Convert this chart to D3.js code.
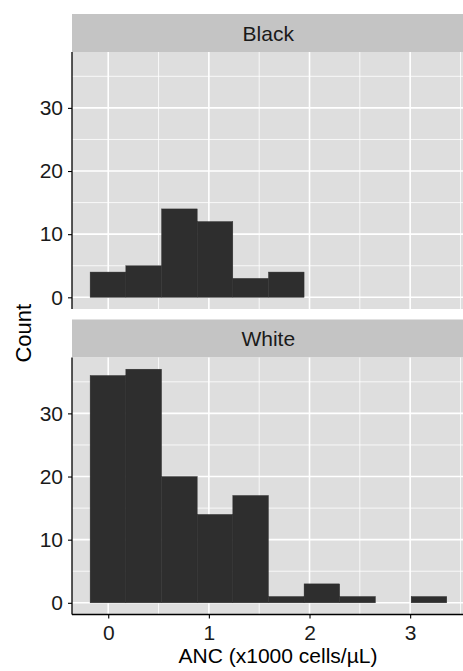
<!DOCTYPE html>
<html>
<head>
<meta charset="utf-8">
<script src="https://cdn.jsdelivr.net/npm/d3@7"></script>
<style>
  body { margin: 0; background: #fff; }
  text { font-family: "Liberation Sans", Arial, sans-serif; }
</style>
</head>
<body>
<script>
// histogram data
var groups = ["Black", "White"];
var binEdges = [-0.18, 0.175, 0.53, 0.884, 1.238, 1.592, 1.946, 2.3, 2.655, 3.01, 3.364];
var countsBlack = [4, 5, 14, 12, 3, 4, 0, 0, 0, 0];
var countsWhite = [36, 37, 20, 14, 17, 1, 3, 1, 0, 1];
var xTicks = [0, 1, 2, 3];
var xMinor = [0.5, 1.5, 2.5, 3.5];
var yTicks = [0, 10, 20, 30];
var yMinor = [5, 15, 25, 35];

var w = 463, h = 671;
var left = 72, right = 464.5;
var stripH = 38, panelH = 257;
var panelTops = [52, 357.5];

var svg = d3.select("body").append("svg")
  .attr("width", w)
  .attr("height", h);

var x = d3.scaleLinear().domain([-0.36, 3.54]).range([left, right]);

var allCounts = countsBlack.concat(countsWhite);
var ymax = d3.max(allCounts);
var pad = ymax * 0.05;

var series = [countsBlack, countsWhite];

groups.forEach(function(g, i) {
  var top = panelTops[i];
  var y = d3.scaleLinear().domain([-pad, ymax + pad]).range([top + panelH, top]);
  var bins = series[i].map(function(c, j) {
    return {x0: binEdges[j], x1: binEdges[j + 1], n: c};
  });

  // strip
  svg.append("rect")
    .attr("x", left).attr("y", top - stripH)
    .attr("width", w - left).attr("height", stripH)
    .attr("fill", "#c4c4c4");
  svg.append("text")
    .attr("x", (left + right) / 2)
    .attr("y", top - stripH / 2)
    .attr("dy", "0.36em")
    .attr("text-anchor", "middle")
    .attr("font-size", "21px")
    .attr("fill", "#1a1a1a")
    .text(g);

  // panel
  var p = svg.append("g");
  p.append("rect")
    .attr("x", left).attr("y", top)
    .attr("width", w - left).attr("height", panelH)
    .attr("fill", "#dedede");

  p.selectAll(".ymin").data(yMinor).enter().append("line")
    .attr("x1", left).attr("x2", w)
    .attr("y1", function(d) { return y(d); })
    .attr("y2", function(d) { return y(d); })
    .attr("stroke", "#fff").attr("stroke-width", 0.8);
  p.selectAll(".xmin").data(xMinor).enter().append("line")
    .attr("y1", top).attr("y2", top + panelH)
    .attr("x1", function(d) { return x(d); })
    .attr("x2", function(d) { return x(d); })
    .attr("stroke", "#fff").attr("stroke-width", 0.8);
  p.selectAll(".ymaj").data(yTicks).enter().append("line")
    .attr("x1", left).attr("x2", w)
    .attr("y1", function(d) { return y(d); })
    .attr("y2", function(d) { return y(d); })
    .attr("stroke", "#fff").attr("stroke-width", 1.6);
  p.selectAll(".xmaj").data(xTicks).enter().append("line")
    .attr("y1", top).attr("y2", top + panelH)
    .attr("x1", function(d) { return x(d); })
    .attr("x2", function(d) { return x(d); })
    .attr("stroke", "#fff").attr("stroke-width", 1.6);

  // bars
  p.selectAll(".bar").data(bins.filter(function(b) { return b.n > 0; }))
    .enter().append("rect")
    .attr("x", function(d) { return x(d.x0); })
    .attr("width", function(d) { return x(d.x1) - x(d.x0); })
    .attr("y", function(d) { return y(d.n); })
    .attr("height", function(d) { return y(0) - y(d.n); })
    .attr("fill", "#2e2e2e")
    .attr("stroke", "#2e2e2e")
    .attr("stroke-width", 0.4);

  // y axis
  var ya = svg.append("g")
    .attr("transform", "translate(" + left + ",0)")
    .call(d3.axisLeft(y).tickValues(yTicks).tickSize(4).tickPadding(5));
  ya.select(".domain").remove();
  ya.selectAll("text").attr("font-size", "21px").attr("fill", "#1a1a1a")
    .attr("font-family", "Liberation Sans, Arial, sans-serif");
  ya.selectAll("line").attr("stroke", "#000").attr("stroke-width", 1.1);
  svg.append("line")
    .attr("x1", left).attr("x2", left)
    .attr("y1", top).attr("y2", top + panelH)
    .attr("stroke", "#000").attr("stroke-width", 1.3);

  if (i === groups.length - 1) {
    var xa = svg.append("g")
      .attr("transform", "translate(0," + (top + panelH) + ")")
      .call(d3.axisBottom(x).tickValues(xTicks).tickSize(4).tickPadding(7)
        .tickFormat(d3.format("d")));
    xa.select(".domain").remove();
    xa.selectAll("text").attr("font-size", "21px").attr("fill", "#1a1a1a")
      .attr("font-family", "Liberation Sans, Arial, sans-serif");
    xa.selectAll("line").attr("stroke", "#000").attr("stroke-width", 1.1);
    svg.append("line")
      .attr("x1", left).attr("x2", w)
      .attr("y1", top + panelH).attr("y2", top + panelH)
      .attr("stroke", "#000").attr("stroke-width", 1.3);
  }
});

// axis titles
svg.append("text")
  .attr("x", 278).attr("y", 663)
  .attr("text-anchor", "middle")
  .attr("font-size", "21px")
  .text("ANC (x1000 cells/\u00b5L)");

svg.append("text")
  .attr("transform", "translate(30.5," + ((panelTops[0] + panelTops[1] + panelH) / 2) + ") rotate(-90)")
  .attr("text-anchor", "middle")
  .attr("font-size", "22px")
  .text("Count");
</script>
</body>
</html>
